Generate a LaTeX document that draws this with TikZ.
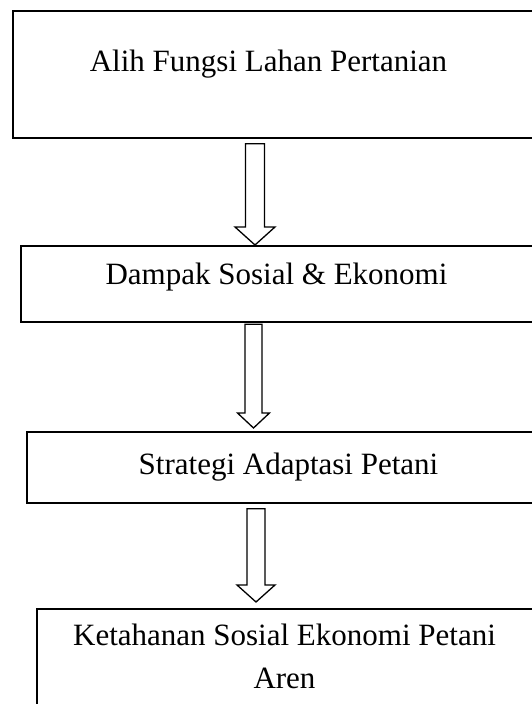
\documentclass[tikz,border=0pt]{standalone}
\usepackage{fontspec}
\setmainfont{Liberation Serif}
\usetikzlibrary{calc}
\tikzset{
  boxnode/.style={draw=black, line width=1.7pt, rectangle, inner sep=0pt, anchor=north west},
  txt/.style={font=\fontsize{31}{43}\selectfont, inner sep=0pt, anchor=base, align=center},
  barrow/.style={draw=black, line width=1.3pt, fill=white, line join=miter}
}
\begin{document}
\begin{tikzpicture}[x=1pt,y=1pt]
\useasboundingbox (0,0) rectangle (532,704);
\fill[white] (0,0) rectangle (532,704);
\clip (0,0) rectangle (532,704);
% boxes (extend beyond the right and bottom edges, as in the reference)
\node[boxnode, minimum width=533pt, minimum height=127pt] (b1) at (12,694) {};
\node[boxnode, minimum width=525pt, minimum height=76pt] (b2) at (20,459) {};
\node[boxnode, minimum width=519pt, minimum height=71pt] (b3) at (26,273) {};
\node[boxnode, minimum width=509pt, minimum height=112pt] (b4) at (36,96) {};
% texts
\node[txt] (t1) at (268.5,632) {Alih Fungsi Lahan Pertanian};
\node[txt] (t2) at (276.5,419) {Dampak Sosial \& Ekonomi};
\node[txt] (t3) at (288.5,229) {Strategi Adaptasi Petani};
\node[txt] (t4) at (284.5,16) {Ketahanan Sosial Ekonomi Petani\\Aren};
% block arrows
\draw[barrow] let \p1=(b1.south), \p2=(b2.north) in
  (245.5pt,\y1-5pt) -- (264.5pt,\y1-5pt) -- (264.5pt,\y2+18pt) -- (275pt,\y2+18pt)
  -- (255pt,\y2) -- (235pt,\y2+18pt) -- (245.5pt,\y2+18pt) -- cycle;
\draw[barrow] let \p1=(b2.south), \p2=(b3.north) in
  (245pt,\y1-1.5pt) -- (262pt,\y1-1.5pt) -- (262pt,\y2+18pt) -- (269.5pt,\y2+18pt)
  -- (253.5pt,\y2+3pt) -- (237.5pt,\y2+18pt) -- (245pt,\y2+18pt) -- cycle;
\draw[barrow] let \p1=(b3.south), \p2=(b4.north) in
  (247pt,\y1-5pt) -- (265pt,\y1-5pt) -- (265pt,\y2+23pt) -- (275pt,\y2+23pt)
  -- (256pt,\y2+6pt) -- (237pt,\y2+23pt) -- (247pt,\y2+23pt) -- cycle;
\end{tikzpicture}
\end{document}
